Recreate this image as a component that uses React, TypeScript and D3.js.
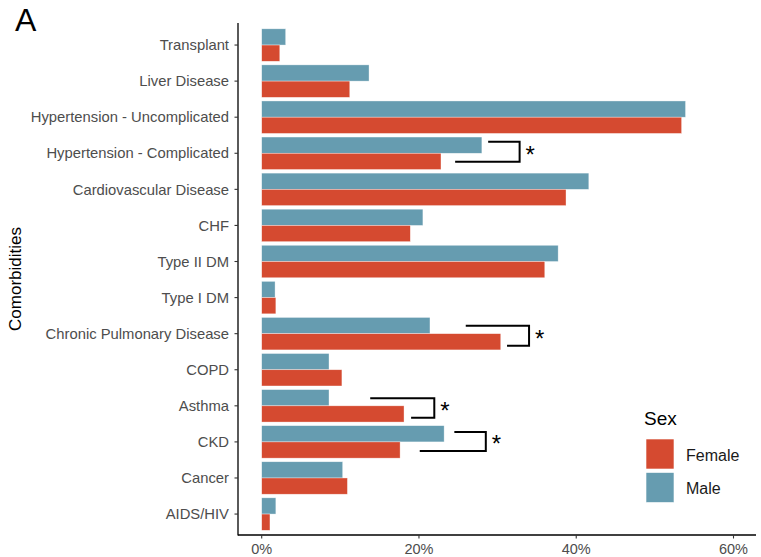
import React from "react";
import * as d3 from "d3";

const categories = [
  "Transplant",
  "Liver Disease",
  "Hypertension - Uncomplicated",
  "Hypertension - Complicated",
  "Cardiovascular Disease",
  "CHF",
  "Type II DM",
  "Type I DM",
  "Chronic Pulmonary Disease",
  "COPD",
  "Asthma",
  "CKD",
  "Cancer",
  "AIDS/HIV",
];
const maleValues = [3.05, 13.65, 53.9, 28.0, 41.6, 20.5, 37.7, 1.7, 21.4, 8.56, 8.56, 23.2, 10.3, 1.8];
const femaleValues = [2.3, 11.2, 53.4, 22.8, 38.7, 18.9, 36.0, 1.8, 30.4, 10.2, 18.1, 17.6, 10.9, 1.05];
const xTicks = [0, 20, 40, 60];
const sexes = ["Female", "Male"];

// significance brackets: [category, top start %, bottom start %, end %]
const brackets: [string, number, number, number][] = [
  ["Hypertension - Complicated", 28.8, 24.6, 32.8],
  ["Chronic Pulmonary Disease", 25.95, 31.2, 34.0],
  ["Asthma", 13.8, 19.0, 21.95],
  ["CKD", 24.5, 20.1, 28.5],
];
const bracketDy: [number, number][] = [
  [-11.5, 8.5],
  [-8, 12],
  [-7.5, 12],
  [-10, 9],
];

const RED = "#d54a30";
const BLUE = "#669cb0";
const FONT = "'Liberation Sans', Arial, Helvetica, sans-serif";

export default function App() {
  const W = 761, H = 557;
  const x = d3.scaleLinear().domain([0, 60]).range([261.7, 733.5]);
  const y = d3.scaleBand<string>().domain(categories).range([27, 532.1]).paddingInner(0).paddingOuter(0);
  const step = y.bandwidth();
  const barH = step * 0.45;
  const center = (c: string) => (y(c) as number) + step / 2;
  const axisY = 535;
  const axisX = 238;
  const color = d3.scaleOrdinal<string, string>().domain(sexes).range([RED, BLUE]);

  return (
    <svg width={W} height={H} style={{ position: "absolute", left: 0, top: 0, background: "#fff" }} fontFamily={FONT}>
      <text x={15} y={31} fontSize={32} fill="#000">A</text>

      {/* bars */}
      {categories.map((c, i) => (
        <g key={c}>
          <rect x={x(0)} y={center(c) - barH} width={x(maleValues[i]) - x(0)} height={barH}
            fill={color("Male")} stroke="#ffffff" strokeOpacity={0.6} strokeWidth={0.6} />
          <rect x={x(0)} y={center(c)} width={x(femaleValues[i]) - x(0)} height={barH}
            fill={color("Female")} stroke="#ffffff" strokeOpacity={0.6} strokeWidth={0.6} />
        </g>
      ))}

      {/* brackets */}
      {brackets.map(([c, t, b, e], i) => {
        const yc = center(c);
        const yt = yc + bracketDy[i][0];
        const yb = yc + bracketDy[i][1];
        const path = d3.path();
        path.moveTo(x(t), yt);
        path.lineTo(x(e), yt);
        path.lineTo(x(e), yb);
        path.lineTo(x(b), yb);
        return (
          <g key={c}>
            <path d={path.toString()} fill="none" stroke="#000" strokeWidth={2} />
            <text x={x(e) + 6} y={(yt + yb) / 2 + 11} fontSize={24} fill="#000">*</text>
          </g>
        );
      })}

      {/* y axis */}
      <line x1={axisX} x2={axisX} y1={23} y2={axisY + 0.5} stroke="#000" strokeWidth={1.3} />
      {categories.map((c) => (
        <g key={c}>
          <line x1={axisX - 3.5} x2={axisX} y1={center(c)} y2={center(c)} stroke="#333" strokeWidth={1.1} />
          <text x={axisX - 9} y={center(c)} dy="0.35em" textAnchor="end" fontSize={14.8} fill="#4d4d4d">{c}</text>
        </g>
      ))}

      {/* x axis */}
      <line x1={axisX} x2={756} y1={axisY} y2={axisY} stroke="#000" strokeWidth={1.3} />
      {xTicks.map((t) => (
        <g key={t}>
          <line x1={x(t)} x2={x(t)} y1={axisY} y2={axisY + 3.5} stroke="#333" strokeWidth={1.1} />
          <text x={x(t)} y={axisY + 14} dy="0.35em" textAnchor="middle" fontSize={14.5} fill="#4d4d4d">{`${t}%`}</text>
        </g>
      ))}

      <text transform={`translate(21,${(23 + axisY) / 2}) rotate(-90)`} textAnchor="middle" fontSize={17} fill="#000">Comorbidities</text>

      {/* legend */}
      <text x={644} y={418} dy="0.35em" fontSize={19} fill="#000">Sex</text>
      {sexes.map((s, i) => (
        <g key={s}>
          <rect x={646} y={439 + i * 33.5} width={28} height={30} fill={color(s)} stroke="#fff" strokeWidth={0.6} />
          <text x={686} y={455 + i * 33.5} dy="0.35em" fontSize={16} fill="#1a1a1a">{s}</text>
        </g>
      ))}
    </svg>
  );
}
